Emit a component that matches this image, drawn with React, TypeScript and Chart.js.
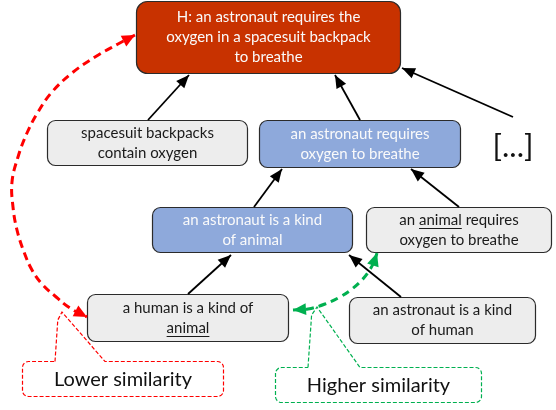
import React, { useEffect, useRef } from "react";
import { Chart, registerables } from "chart.js";

Chart.register(...registerables);

const FONT = "Lato, 'Open Sans', sans-serif";

// ---- nodes ----
const nodeLines: string[][] = [
  ["H: an astronaut requires the", "oxygen in a spacesuit backpack", "to breathe"],
  ["spacesuit backpacks", "contain oxygen"],
  ["an astronaut requires", "oxygen to breathe"],
  ["an astronaut is a kind", "of animal"],
  ["an _animal_ requires", "oxygen to breathe"],
  ["a human is a kind of", "_animal_"],
  ["an astronaut is a kind", "of human"],
];
const nodeKind = ["hyp", "plain", "blue", "blue", "plain", "plain", "plain"];
const nodeLeft = [136, 47, 259, 152, 366, 87, 349];
const nodeRight = [401, 248, 461, 353, 552, 289, 536];
const nodeTop = [1, 120, 120, 207, 207, 294, 297];
const nodeBottom = [74, 166, 168, 253, 253, 342, 344];

// ---- support edges (from -> arrow tip) ----
const edgeFromX = [148, 360, 513, 254, 459, 188, 401];
const edgeFromY = [120, 120, 117, 207, 207, 294, 297];
const edgeToX = [189, 335, 402, 282, 411, 231, 349];
const edgeToY = [75, 75, 68, 169, 169, 255, 255];

// ---- similarity arcs ----
const lowerArcX = [135, 118, 95, 72, 52, 38, 27, 18, 12, 13, 17, 24, 32, 42, 55, 70, 87];
const lowerArcY = [35, 44, 57, 73, 92, 112, 133, 157, 182, 207, 230, 252, 270, 284, 296, 308, 317];
const higherArcX = [293, 308, 325, 340, 352, 362, 369, 374, 377];
const higherArcY = [310, 309, 304, 297, 289, 280, 271, 262, 253];

// ---- callouts ----
const calloutText = ["Lower similarity", "Higher similarity"];
const calloutLeft = [22, 275];
const calloutRight = [224, 482];
const calloutTop = [361, 367];
const calloutBottom = [397, 403];
const pointerBaseL = [55, 308];
const pointerBaseR = [105, 360];
const pointerTipX = [62, 317];
const pointerTipY = [312, 307];

const ellipsisText = "[...]";
const ellipsisX = 513;
const ellipsisY = 147;

const RED = "#FF0000";
const GREEN = "#00B050";

function roundRect(ctx: CanvasRenderingContext2D, x0: number, y0: number, x1: number, y1: number, r: number) {
  ctx.beginPath();
  ctx.moveTo(x0 + r, y0);
  ctx.lineTo(x1 - r, y0);
  ctx.arcTo(x1, y0, x1, y0 + r, r);
  ctx.lineTo(x1, y1 - r);
  ctx.arcTo(x1, y1, x1 - r, y1, r);
  ctx.lineTo(x0 + r, y1);
  ctx.arcTo(x0, y1, x0, y1 - r, r);
  ctx.lineTo(x0, y0 + r);
  ctx.arcTo(x0, y0, x0 + r, y0, r);
  ctx.closePath();
}

function drawRichLine(ctx: CanvasRenderingContext2D, text: string, cx: number, cy: number) {
  const parts = text.split("_");
  const widths = parts.map((p) => ctx.measureText(p).width);
  const total = widths.reduce((a, b) => a + b, 0);
  let x = cx - total / 2;
  ctx.textAlign = "left";
  ctx.textBaseline = "middle";
  parts.forEach((p, i) => {
    ctx.fillText(p, x, cy);
    if (i % 2 === 1) {
      ctx.save();
      ctx.strokeStyle = ctx.fillStyle as string;
      ctx.lineWidth = 1;
      ctx.beginPath();
      ctx.moveTo(x, cy + 8.5);
      ctx.lineTo(x + widths[i], cy + 8.5);
      ctx.stroke();
      ctx.restore();
    }
    x += widths[i];
  });
}

const diagramPlugin = {
  id: "diagram",
  beforeDatasetsDraw(chart: any) {
    const ctx: CanvasRenderingContext2D = chart.ctx;
    const xs = chart.scales.x;
    const ys = chart.scales.y;
    const px = (v: number) => xs.getPixelForValue(v);
    const py = (v: number) => ys.getPixelForValue(v);
    ctx.save();
    // nodes
    nodeLines.forEach((lines, i) => {
      const kind = nodeKind[i];
      const x0 = px(nodeLeft[i]) + 0.5;
      const x1 = px(nodeRight[i]) - 0.5;
      const y0 = py(nodeTop[i]) + 0.5;
      const y1 = py(nodeBottom[i]) - 0.5;
      roundRect(ctx, x0, y0, x1, y1, kind === "hyp" ? 11 : 8);
      ctx.fillStyle = kind === "hyp" ? "#C83200" : kind === "blue" ? "#8EA9DB" : "#EDEDED";
      ctx.fill();
      ctx.lineWidth = 1.2;
      ctx.strokeStyle = "#2b2b2b";
      ctx.stroke();
      ctx.font = `15px ${FONT}`;
      ctx.fillStyle = kind === "plain" ? "#1a1a1a" : "#FAFAFA";
      const cx = (x0 + x1) / 2;
      const cy = (y0 + y1) / 2;
      const lh = 20;
      lines.forEach((ln, k) => {
        drawRichLine(ctx, ln, cx, cy + (k - (lines.length - 1) / 2) * lh);
      });
    });
    // callouts
    calloutText.forEach((t, i) => {
      const color = i === 0 ? RED : GREEN;
      const x0 = px(calloutLeft[i]) + 0.5;
      const x1 = px(calloutRight[i]) - 0.5;
      const y0 = py(calloutTop[i]) + 0.5;
      const y1 = py(calloutBottom[i]) - 0.5;
      const r = 6;
      const bl = px(pointerBaseL[i]);
      const br = px(pointerBaseR[i]);
      const tx = px(pointerTipX[i]);
      const ty = py(pointerTipY[i]);
      ctx.beginPath();
      ctx.moveTo(bl, y0);
      ctx.lineTo(bl + (tx - bl) * 0.4, ty + 8);
      ctx.lineTo(tx, ty);
      ctx.lineTo(br, y0);
      ctx.lineTo(x1 - r, y0);
      ctx.arcTo(x1, y0, x1, y0 + r, r);
      ctx.lineTo(x1, y1 - r);
      ctx.arcTo(x1, y1, x1 - r, y1, r);
      ctx.lineTo(x0 + r, y1);
      ctx.arcTo(x0, y1, x0, y1 - r, r);
      ctx.lineTo(x0, y0 + r);
      ctx.arcTo(x0, y0, x0 + r, y0, r);
      ctx.lineTo(bl, y0);
      ctx.fillStyle = "#FFFFFF";
      ctx.fill();
      ctx.setLineDash([4, 2]);
      ctx.lineWidth = 1.2;
      ctx.strokeStyle = color;
      ctx.stroke();
      ctx.setLineDash([]);
      ctx.font = `20px ${FONT}`;
      ctx.fillStyle = "#111111";
      ctx.textAlign = "center";
      ctx.textBaseline = "middle";
      ctx.fillText(t, (x0 + x1) / 2, (y0 + y1) / 2 + 1);
    });
    // ellipsis
    ctx.font = `31px ${FONT}`;
    ctx.fillStyle = "#111111";
    ctx.textAlign = "center";
    ctx.textBaseline = "middle";
    ctx.fillText(ellipsisText, px(ellipsisX), py(ellipsisY));
    ctx.restore();
  },
  afterDatasetsDraw(chart: any) {
    const ctx: CanvasRenderingContext2D = chart.ctx;
    ctx.save();
    chart.data.datasets.forEach((ds: any, i: number) => {
      const pts = chart.getDatasetMeta(i).data;
      if (!pts || pts.length < 2) return;
      const head = (a: any, b: any) => {
        const ang = Math.atan2(b.y - a.y, b.x - a.x);
        const L = ds.headLen || 13;
        const W = ds.headWidth || 5.5;
        ctx.beginPath();
        ctx.moveTo(b.x, b.y);
        ctx.lineTo(b.x - L * Math.cos(ang) + W * Math.sin(ang), b.y - L * Math.sin(ang) - W * Math.cos(ang));
        ctx.lineTo(b.x - L * Math.cos(ang) - W * Math.sin(ang), b.y - L * Math.sin(ang) + W * Math.cos(ang));
        ctx.closePath();
        ctx.fillStyle = ds.borderColor;
        ctx.fill();
      };
      if (ds.arrowEnd) head(pts[pts.length - 2], pts[pts.length - 1]);
      if (ds.arrowStart) head(pts[1], pts[0]);
    });
    ctx.restore();
  },
};

export default function App() {
  const ref = useRef<HTMLCanvasElement | null>(null);
  useEffect(() => {
    document.body.style.margin = "0";
    const datasets: any[] = [];
    edgeFromX.forEach((_, i) => {
      datasets.push({
        data: [
          { x: edgeFromX[i], y: edgeFromY[i] },
          { x: edgeToX[i], y: edgeToY[i] },
        ],
        showLine: true,
        borderColor: "#000000",
        borderWidth: 1.8,
        pointRadius: 0,
        clip: false,
        arrowEnd: true,
        headLen: 13,
        headWidth: 5.5,
      });
    });
    datasets.push({
      data: lowerArcX.map((x, i) => ({ x, y: lowerArcY[i] })),
      showLine: true,
      borderColor: RED,
      borderWidth: 3,
      borderDash: [8, 5],
      tension: 0.4,
      pointRadius: 0,
      clip: false,
      arrowEnd: true,
      arrowStart: true,
      headLen: 13,
      headWidth: 6,
    });
    datasets.push({
      data: higherArcX.map((x, i) => ({ x, y: higherArcY[i] })),
      showLine: true,
      borderColor: GREEN,
      borderWidth: 3,
      borderDash: [8, 5],
      tension: 0.4,
      pointRadius: 0,
      clip: false,
      arrowEnd: true,
      arrowStart: true,
      headLen: 13,
      headWidth: 6,
    });
    const chart = new Chart(ref.current as HTMLCanvasElement, {
      type: "scatter",
      data: { datasets },
      options: {
        animation: false,
        responsive: false,
        devicePixelRatio: 1,
        layout: { padding: 0 },
        plugins: { legend: { display: false }, tooltip: { enabled: false } },
        scales: {
          x: { type: "linear", min: 0, max: 556, display: false },
          y: { type: "linear", min: 0, max: 410, reverse: true, display: false },
        },
      } as any,
      plugins: [diagramPlugin],
    });
    return () => chart.destroy();
  }, []);
  return (
    <div style={{ width: 556, height: 410, background: "#fff" }}>
      <canvas ref={ref} width={556} height={410} />
    </div>
  );
}
